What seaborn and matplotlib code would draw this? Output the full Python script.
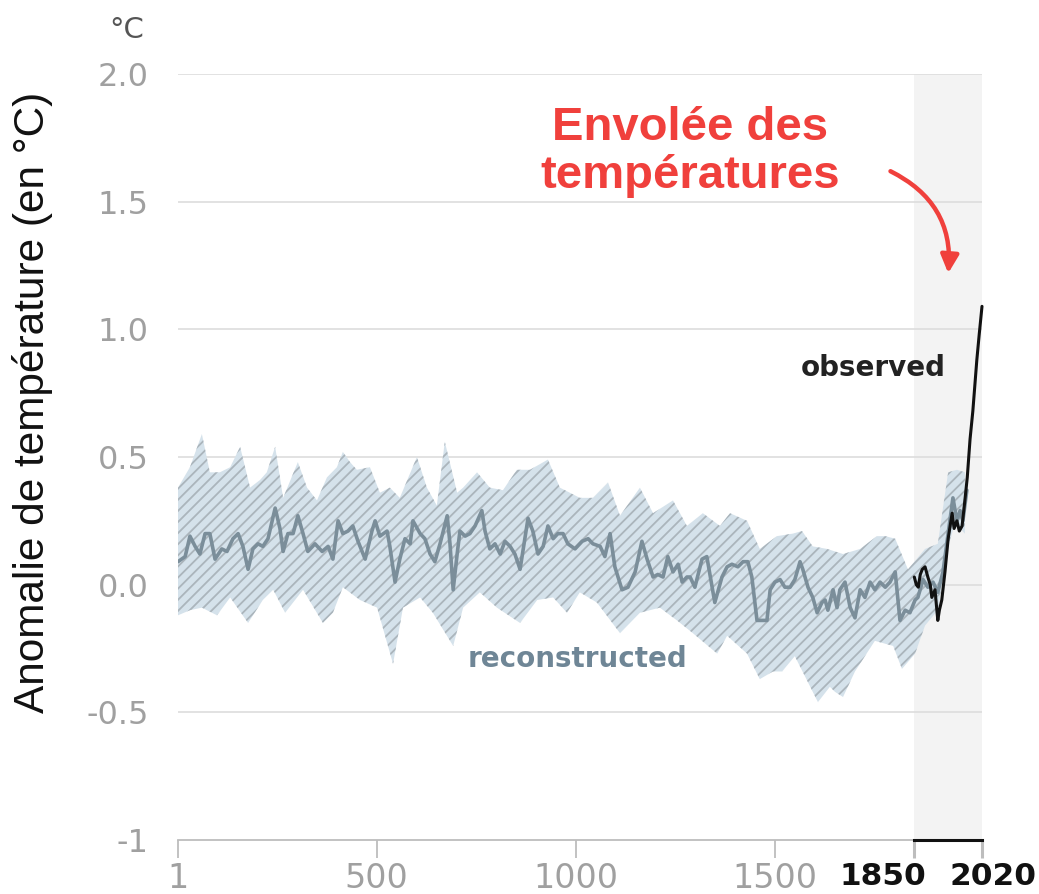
import numpy as np
import pandas as pd
import matplotlib
matplotlib.use("Agg")
import matplotlib.pyplot as plt
import matplotlib.transforms as mtransforms
import seaborn as sns

# ---------------- data ----------------
recon_years = [1, 19, 31, 44, 56, 69, 81, 94, 111, 124, 139, 152, 164, 177, 189, 202, 214, 227,
               245, 257, 265, 277, 290, 302, 315, 327, 345, 363, 378, 390, 403, 415, 428, 440,
               453, 471, 488, 496, 508, 526, 533, 546, 558, 571, 584, 591, 609, 621, 634, 646,
               659, 677, 684, 692, 702, 709, 722, 734, 747, 764, 772, 784, 797, 810, 822, 835,
               847, 860, 872, 880, 892, 905, 918, 930, 943, 955, 968, 980, 998, 1016, 1031,
               1043, 1061, 1073, 1086, 1098, 1116, 1131, 1149, 1166, 1179, 1194, 1206, 1219,
               1231, 1244, 1257, 1267, 1279, 1287, 1299, 1317, 1329, 1349, 1367, 1380, 1392,
               1407, 1420, 1432, 1442, 1455, 1467, 1480, 1488, 1500, 1513, 1525, 1538, 1550,
               1563, 1570, 1583, 1595, 1606, 1618, 1626, 1633, 1646, 1656, 1663, 1676, 1689,
               1701, 1714, 1726, 1739, 1751, 1764, 1777, 1789, 1802, 1814, 1827, 1839, 1852,
               1859, 1872, 1884, 1897, 1909, 1922, 1935, 1947, 1957, 1965, 1972, 1982]
recon_values = [0.09, 0.11, 0.19, 0.15, 0.12, 0.20, 0.20, 0.10, 0.14, 0.13, 0.18, 0.20, 0.15, 0.06,
                0.14, 0.16, 0.15, 0.18, 0.30, 0.22, 0.13, 0.20, 0.20, 0.27, 0.20, 0.13, 0.16, 0.13,
                0.15, 0.10, 0.25, 0.20, 0.21, 0.23, 0.17, 0.10, 0.21, 0.25, 0.19, 0.21, 0.15, 0.01,
                0.10, 0.18, 0.16, 0.25, 0.20, 0.18, 0.12, 0.09, 0.16, 0.27, 0.16, -0.02, 0.12, 0.21,
                0.19, 0.20, 0.23, 0.29, 0.21, 0.14, 0.16, 0.12, 0.17, 0.15, 0.12, 0.06, 0.18, 0.26,
                0.21, 0.12, 0.15, 0.23, 0.18, 0.20, 0.20, 0.16, 0.14, 0.17, 0.18, 0.16, 0.15, 0.11,
                0.20, 0.07, -0.02, -0.01, 0.05, 0.17, 0.10, 0.03, 0.04, 0.03, 0.11, 0.05, 0.08,
                0.01, 0.03, 0.03, -0.01, 0.10, 0.11, -0.07, 0.03, 0.07, 0.08, 0.07, 0.09, 0.09,
                0.03, -0.14, -0.14, -0.14, -0.02, 0.01, 0.02, -0.01, -0.01, 0.02, 0.09, 0.06,
                -0.01, -0.05, -0.11, -0.07, -0.06, -0.10, -0.02, -0.09, -0.02, 0.01, -0.09, -0.13,
                -0.02, -0.05, 0.01, -0.02, 0.01, -0.01, 0.01, 0.05, -0.14, -0.10, -0.11, -0.06,
                -0.05, 0.02, -0.01, 0.01, -0.03, 0.05, 0.20, 0.34, 0.25, 0.29, 0.25, 0.37]

upper_years = [1, 31, 61, 81, 106, 132, 157, 182, 207, 224, 245, 265, 302, 325, 350, 375, 400,
               415, 433, 450, 483, 508, 533, 558, 601, 626, 651, 671, 702, 717, 752, 784, 817,
               852, 885, 930, 960, 1010, 1043, 1081, 1111, 1161, 1194, 1244, 1279, 1319, 1362,
               1387, 1430, 1462, 1505, 1545, 1568, 1595, 1631, 1671, 1714, 1756, 1777, 1802,
               1834, 1877, 1909, 1935, 1957, 1977]
upper_values = [0.38, 0.46, 0.59, 0.44, 0.44, 0.46, 0.54, 0.38, 0.41, 0.44, 0.54, 0.34, 0.48,
                0.38, 0.33, 0.42, 0.46, 0.52, 0.48, 0.45, 0.46, 0.36, 0.38, 0.34, 0.50, 0.38,
                0.31, 0.56, 0.36, 0.38, 0.44, 0.38, 0.37, 0.45, 0.45, 0.49, 0.38, 0.34, 0.34,
                0.40, 0.27, 0.38, 0.28, 0.33, 0.23, 0.28, 0.23, 0.28, 0.25, 0.14, 0.19, 0.20,
                0.21, 0.15, 0.14, 0.12, 0.14, 0.19, 0.19, 0.18, 0.06, 0.14, 0.16, 0.44, 0.45,
                0.44]

lower_years = [1, 31, 61, 99, 132, 177, 214, 240, 270, 315, 365, 390, 415, 458, 501, 541, 566,
               609, 641, 692, 717, 759, 802, 860, 903, 943, 978, 1010, 1053, 1111, 1161, 1211,
               1254, 1294, 1355, 1380, 1430, 1462, 1495, 1518, 1550, 1608, 1638, 1651, 1671,
               1701, 1751, 1797, 1819, 1852, 1877, 1909, 1935, 1952, 1977]
lower_values = [-0.12, -0.10, -0.09, -0.12, -0.05, -0.15, -0.06, -0.02, -0.11, -0.02, -0.15,
                -0.11, -0.01, -0.06, -0.09, -0.31, -0.09, -0.05, -0.11, -0.24, -0.09, -0.03,
                -0.09, -0.15, -0.06, -0.05, -0.11, -0.03, -0.07, -0.19, -0.11, -0.09, -0.14,
                -0.19, -0.27, -0.20, -0.27, -0.37, -0.34, -0.34, -0.28, -0.46, -0.40, -0.42,
                -0.44, -0.34, -0.22, -0.24, -0.33, -0.27, -0.16, -0.10, 0.15, 0.24, 0.20]

obs_years = [1850, 1855, 1860, 1865, 1870, 1877, 1884, 1890, 1894, 1902, 1909, 1913, 1919,
             1927, 1935, 1945, 1950, 1957, 1963, 1970, 1977, 1983, 1990, 1997, 2007, 2013, 2020]
obs_values = [0.03, 0.00, -0.01, 0.04, 0.06, 0.07, 0.03, 0.00, -0.05, -0.02, -0.14, -0.10,
              -0.06, 0.05, 0.18, 0.28, 0.22, 0.25, 0.21, 0.23, 0.33, 0.42, 0.57, 0.68, 0.88,
              0.98, 1.09]

x_ticks = [1, 500, 1000, 1500, 1850, 2020]
x_tick_labels = ["1", "500", "1000", "1500", "1850", "2020"]
y_ticks = [-1, -0.5, 0.0, 0.5, 1.0, 1.5, 2.0]
y_tick_labels = ["-1", "-0.5", "0.0", "0.5", "1.0", "1.5", "2.0"]
recent_period = [1850, 2020]

# ---------------- plotting ----------------
sns.set_theme(style="white")
plt.rcParams["font.family"] = ["DejaVu Sans"]
plt.rcParams["hatch.linewidth"] = 1.3

fig = plt.figure(figsize=(10.39, 8.94), dpi=100)
ax = fig.add_axes([178 / 1039, 54 / 894, 804 / 1039, 766 / 894])
ax.set_xlim(x_ticks[0], x_ticks[-1])
ax.set_ylim(y_ticks[0], y_ticks[-1])

# recent-period shading
ax.axvspan(recent_period[0], recent_period[1], color="#f3f3f3", zorder=0, lw=0)

# grid lines
for yv in y_ticks[1:]:
    ax.axhline(yv, color="#dddddd", lw=1.2, zorder=0.5)

# uncertainty band (polygon: upper edge forward, lower edge backward)
band_x = list(upper_years) + list(lower_years[::-1])
band_y = list(upper_values) + list(lower_values[::-1])
ax.fill(band_x, band_y, facecolor="#d5e2eb", edgecolor="#abb5bc", hatch="///",
        lw=0, zorder=1)

recon = pd.DataFrame({"year": recon_years, "anomaly": recon_values})
obs = pd.DataFrame({"year": obs_years, "anomaly": obs_values})
sns.lineplot(data=recon, x="year", y="anomaly", ax=ax, color="#7b8e9a", lw=2.6, zorder=2)
sns.lineplot(data=obs, x="year", y="anomaly", ax=ax, color="#111111", lw=2.2, zorder=3,
             clip_on=False)

# axes styling
for s in ["left", "right", "top"]:
    ax.spines[s].set_visible(False)
ax.spines["bottom"].set_color("#bdbdbd")
ax.spines["bottom"].set_linewidth(1.3)
ax.set_xlabel("")
ax.set_ylabel("")

ax.set_yticks(y_ticks)
ax.set_yticklabels(y_tick_labels, fontsize=23, color="#a0a0a0", family="DejaVu Sans")
ax.tick_params(axis="y", length=0, pad=21)

ax.set_xticks(x_ticks)
ax.set_xticklabels(x_tick_labels, fontsize=24, family="DejaVu Sans")
ax.tick_params(axis="x", length=13, width=1.3, color="#bdbdbd", pad=3, bottom=True)
label_shift_px = {1850: -31, 2020: 11}
for i, lab in enumerate(ax.get_xticklabels()):
    if x_ticks[i] in recent_period:
        lab.set_color("#111111")
        lab.set_fontweight("bold")
        lab.set_fontsize(22.5)
        shift = mtransforms.ScaledTranslation(label_shift_px[x_ticks[i]] / 100, 0,
                                              fig.dpi_scale_trans)
        lab.set_transform(lab.get_transform() + shift)
    else:
        lab.set_color("#a0a0a0")
for i, tk in enumerate(ax.xaxis.get_major_ticks()):
    if x_ticks[i] in recent_period:
        tk.tick1line.set_color("#111111")
        tk.tick1line.set_markeredgewidth(2.2)
# bracket over recent period
ax.plot(recent_period, [y_ticks[0], y_ticks[0]], color="#111111", lw=2.2, clip_on=False,
        zorder=4, solid_capstyle="projecting")

# texts
ax.text(1005, -0.29, "reconstructed", fontsize=20, fontweight="bold", color="#6f8696",
        ha="center", va="center", family="DejaVu Sans")
ax.text(1746, 0.85, "observed", fontsize=20, fontweight="bold", color="#222222",
        ha="center", va="center", family="DejaVu Sans")

fig.text(127 / 1039, 1 - 30 / 894, "°C", fontsize=21, color="#555555", ha="center",
         va="center", family="DejaVu Sans")
fig.text(33 / 1039, 1 - 402 / 894, "Anomalie de température (en °C)", fontsize=30.5,
         rotation=90, ha="center", va="center", color="#111111", family="Liberation Sans")

fig.text(690 / 1039, 1 - 152 / 894, "Envolée des\ntempératures", fontsize=34,
         fontweight="bold", color="#f0403c", ha="center", va="center",
         family="Liberation Sans", linespacing=1.1)

ax.annotate("", xy=(948, 894 - 276), xycoords="figure pixels",
            xytext=(888, 894 - 170), textcoords="figure pixels",
            arrowprops=dict(arrowstyle="-|>,head_length=0.9,head_width=0.45",
                            color="#f0403c", lw=3.2,
                            connectionstyle="arc3,rad=-0.35"))

fig.savefig("out.png", dpi=100)
